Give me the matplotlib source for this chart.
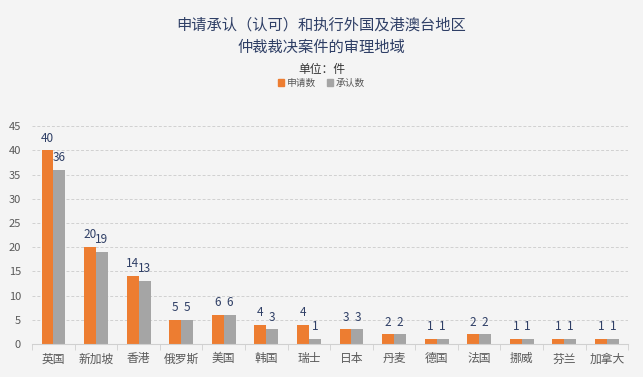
import numpy as np
import matplotlib.pyplot as plt
from matplotlib.patches import Patch

plt.rcParams['font.family'] = ['Noto Sans CJK SC', 'DejaVu Sans']

regions = ['英国', '新加坡', '香港', '俄罗斯', '美国', '韩国', '瑞士', '日本', '丹麦', '德国', '法国', '挪威', '芬兰', '加拿大']
applied = [40, 20, 14, 5, 6, 4, 4, 3, 2, 1, 2, 1, 1, 1]
recognized = [36, 19, 13, 5, 6, 3, 1, 3, 2, 1, 2, 1, 1, 1]

bg = '#f4f4f4'
orange = '#ED7D31'
grey = '#A5A5A5'
navy = '#2F3F66'

fig = plt.figure(figsize=(6.43, 3.77), dpi=100, facecolor=bg)
ax = fig.add_axes([0.05, 0.0875, 0.927, 0.578], facecolor=bg)

x = np.arange(len(regions))
w = 0.28
b1 = ax.bar(x - w / 2, applied, w, color=orange)
b2 = ax.bar(x + w / 2, recognized, w, color=grey)

for bars, vals in ((b1, applied), (b2, recognized)):
    for r, v in zip(bars, vals):
        ax.text(r.get_x() + r.get_width() / 2, v + 1.2, str(v), ha='center', va='bottom',
                fontsize=8.5, color=navy)

ax.set_xlim(-0.5, len(regions) - 0.5)
ax.set_ylim(0, 45)
ax.set_yticks(range(0, 46, 5))
ax.yaxis.grid(True, linestyle=(0, (3, 2)), color='#d0d0d0', linewidth=0.7)
ax.set_axisbelow(True)
for s in ['top', 'right', 'left']:
    ax.spines[s].set_visible(False)
ax.spines['bottom'].set_color('#d0d0d0')
ax.tick_params(axis='y', length=0, labelsize=8, labelcolor='#595959', pad=8)
ax.set_xticks(x)
ax.set_xticklabels(regions, fontsize=8.5, color='#595959')
ax.tick_params(axis='x', length=0, pad=6)
ax.set_xticks(np.arange(-0.5, len(regions)), minor=True)
ax.tick_params(axis='x', which='minor', length=4, color='#d0d0d0')

fig.text(0.5, 0.933, '申请承认（认可）和执行外国及港澳台地区', ha='center', va='center',
         fontsize=11, color=navy)
fig.text(0.5, 0.874, '仲裁裁决案件的审理地域', ha='center', va='center',
         fontsize=11, color=navy)
fig.text(0.5, 0.815, '单位：件', ha='center', va='center', fontsize=8.5, color='#333333')

handles = [Patch(color=orange, label='申请数'), Patch(color=grey, label='承认数')]
fig.legend(handles=handles, loc='center', bbox_to_anchor=(0.5, 0.78), ncol=2, frameon=False,
           fontsize=7, handlelength=0.6, handleheight=0.6, handletextpad=0.3, columnspacing=1.2,
           labelcolor='#595959')

fig.savefig('out.png', dpi=100, facecolor=bg)
